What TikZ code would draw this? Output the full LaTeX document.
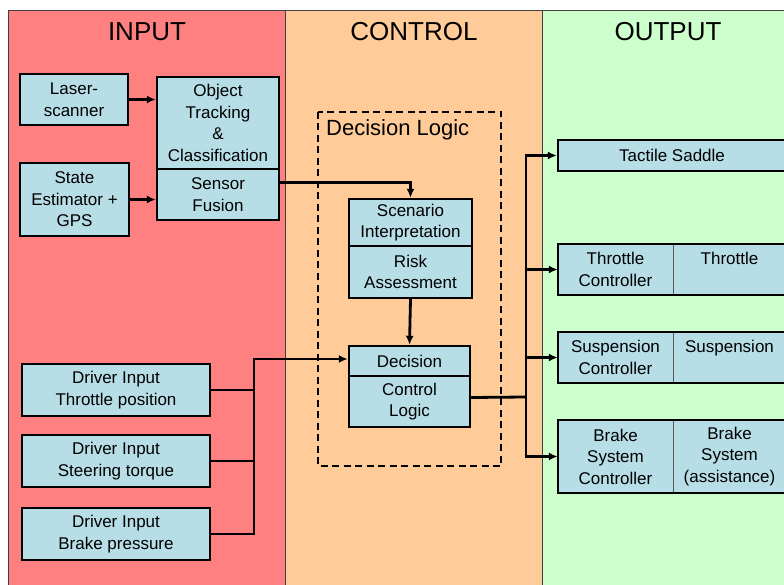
\documentclass[tikz,border=0pt]{standalone}
\usepackage{fontspec}
\setmainfont{Liberation Sans}
\usepackage{xcolor}
\usetikzlibrary{positioning,arrows.meta}

\definecolor{rouge}{RGB}{255,128,128}
\definecolor{peche}{RGB}{255,204,153}
\definecolor{vert}{RGB}{204,255,204}
\definecolor{bleu}{RGB}{183,222,230}

\begin{document}
\begin{tikzpicture}[x=1pt,y=-1pt,>={Latex[length=9pt,width=8pt]},
	bloc/.style={draw,line width=2.4pt,fill=bleu,align=center,inner sep=0pt,font=\fontsize{17}{21.5}\selectfont},
	demi/.style={fill=bleu,align=center,inner sep=0pt,font=\fontsize{17}{21.5}\selectfont},
	lien/.style={line width=2.8pt},
	titre/.style={font=\fontsize{26}{30}\selectfont}]
	\useasboundingbox (0,0) rectangle (784,585);
	% les trois colonnes
	\filldraw[fill=rouge,draw=gray!50!black,line width=1pt] (8,11) rectangle (285,600);
	\filldraw[fill=peche,draw=gray!50!black,line width=1pt] (285,11) rectangle (542,600);
	\filldraw[fill=vert,draw=gray!50!black,line width=1pt] (542,11) rectangle (800,600);
	\node[titre] (tin) at (147,32) {INPUT};
	\node[titre] (tctl) at (414,32) {CONTROL};
	\node[titre] (tout) at (668,32) {OUTPUT};
	% entrees
	\node[bloc,minimum width=108pt,minimum height=51pt] (laser) at (74,99.5) {Laser-\\scanner};
	\node[bloc,minimum width=109pt,minimum height=73pt] (state) at (74.5,199.5) {State\\Estimator +\\GPS};
	\node[bloc,minimum width=122pt,minimum height=92pt] (objtrack) at (218,123) {Object\\Tracking\\\&\\Classification};
	\node[bloc,minimum width=122pt,minimum height=51pt] (fusion) at (218,194.5) {Sensor\\Fusion};
	\node[bloc,minimum width=188pt,minimum height=52pt] (drvthr) at (116,390) {Driver Input\\Throttle position};
	\node[bloc,minimum width=188pt,minimum height=52pt] (drvstr) at (116,461) {Driver Input\\Steering torque};
	\node[bloc,minimum width=188pt,minimum height=52pt] (drvbrk) at (116,534) {Driver Input\\Brake pressure};
	% logique de decision
	\draw[line width=2.4pt,dash pattern=on 7pt off 4.5pt] (318,112) rectangle (501,466);
	\node[anchor=west,inner sep=0pt,font=\fontsize{22}{26}\selectfont] (dlogic) at (326,130) {Decision Logic};
	\node[bloc,minimum width=123pt,minimum height=47pt] (scen) at (410.5,222.5) {Scenario\\Interpretation};
	\node[bloc,minimum width=123pt,minimum height=52pt] (risk) at (410.5,272) {Risk\\Assessment};
	\node[bloc,minimum width=121pt,minimum height=30pt] (decis) at (409.5,361) {Decision};
	\node[bloc,minimum width=121pt,minimum height=51pt] (ctrl) at (409.5,401.5) {Control\\Logic};
	% sorties
	\node[bloc,minimum width=228pt,minimum height=31pt] (tactile) at (672,155.5) {Tactile Saddle};
	\node[demi,minimum width=115pt,minimum height=51pt] (thrctl) at (615.5,269.5) {Throttle\\Controller};
	\node[demi,minimum width=113pt,minimum height=51pt] (thr) at (729.5,269.5) {Throttle\\~};
	\node[demi,minimum width=115pt,minimum height=51pt] (suspctl) at (615.5,357.5) {Suspension\\Controller};
	\node[demi,minimum width=113pt,minimum height=51pt] (susp) at (729.5,357.5) {Suspension\\~};
	\node[demi,minimum width=115pt,minimum height=73pt] (brkctl) at (615.5,456.5) {Brake\\System\\Controller};
	\node[demi,minimum width=113pt,minimum height=73pt] (brk) at (729.5,456.5) {Brake\\System\\(assistance)};
	\foreach \a/\b in {thrctl/thr,suspctl/susp,brkctl/brk}{
		\draw[gray!70!black,line width=1pt] (\a.north east) -- (\a.south east); % separation
		\draw[line width=2.4pt] (\a.north west) rectangle (\b.south east);
	}
	% liaisons
	\coordinate (dbus) at (254,359);
	\coordinate (obus) at (526,397);
	\draw[lien,->] (laser.east) -- (laser.east -| objtrack.west);
	\draw[lien,->] (state.east) -- (state.east -| fusion.west);
	\draw[lien,->] ([yshift=12pt]fusion.east) -| (scen.north);
	\draw[lien,->] (risk.south) -- (decis.north);
	\draw[lien] (drvthr.east) -- (drvthr.east -| dbus);
	\draw[lien] (drvstr.east) -- (drvstr.east -| dbus);
	\draw[lien,->] (drvbrk.east) -| (dbus) -- (dbus -| decis.west);
	\draw[lien] ([yshift=4pt]ctrl.east) -- (obus);
	\draw[lien,->] (obus) |- (tactile.west);
	\draw[lien,->] (obus) |- (thrctl.west);
	\draw[lien,->] (obus) |- (suspctl.west);
	\draw[lien,->] (obus) |- (brkctl.west);
\end{tikzpicture}
\end{document}
